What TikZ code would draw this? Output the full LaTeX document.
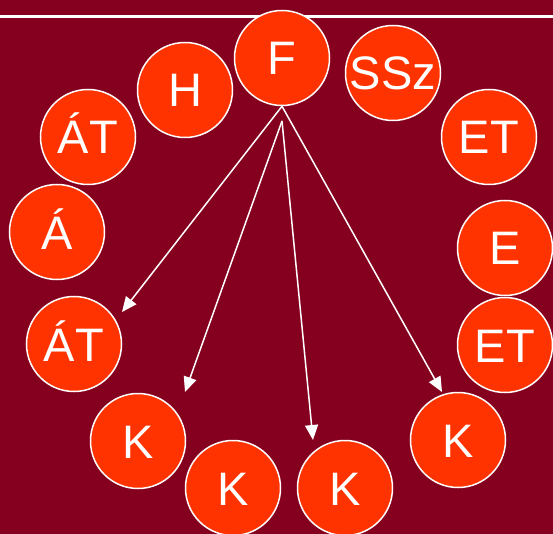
\documentclass[tikz,border=0pt]{standalone}
\usepackage{fontspec}
\setmainfont{Liberation Sans}
\usetikzlibrary{arrows.meta}
\definecolor{bordo}{RGB}{132,0,30}
\definecolor{narancs}{RGB}{255,51,0}
\tikzset{kor/.style={circle,draw=white,line width=1.5pt,fill=narancs,minimum size=95pt,inner sep=0pt,
    text=white,font=\fontsize{47}{47}\selectfont,text height=34pt,text depth=0pt}}
\begin{document}
\begin{tikzpicture}[>={Triangle[width=13pt,length=15pt]},x=1pt,y=-1pt]
            \useasboundingbox (0,0) rectangle (553,534);
            \fill[bordo] (0,0) rectangle (553,534);
            \draw[white,line width=3pt] (0,16.5)--(553,16.5);
            \node[kor] (F) at (282,58) {F};
            \node[kor] (H) at (185,90) {H};
            \node[kor] (SSz) at (393,73) {SSz};
            \node[kor] (AT1) at (88,137) {ÁT};
            \node[kor] (ET1) at (489,137) {ET};
            \node[kor] (A) at (57,232) {Á};
            \node[kor] (E) at (505,248) {E};
            \node[kor] (AT2) at (74,344) {ÁT};
            \node[kor] (ET2) at (505,345) {ET};
            \node[kor] (K1) at (138,441) {K};
            \node[kor] (K2) at (233,488) {K};
            \node[kor] (K3) at (345,488) {K};
            \node[kor] (K4) at (458,440) {K};
            \coordinate (Fb) at (282,121);
            \coordinate (tAT2) at (122,312);
            \coordinate (tK1) at (185,392);
            \coordinate (tK3) at (313,440);
            \coordinate (tK4) at (442,392);
            \draw[->,white,line width=1.5pt] (F.south)--(tAT2);
            \draw[->,white,line width=1.5pt] (F.south)--(tK4);
            \draw[->,white,line width=1.5pt] (Fb)--(tK1);
            \draw[->,white,line width=1.5pt] (Fb)--(tK3);
\end{tikzpicture}
\end{document}
